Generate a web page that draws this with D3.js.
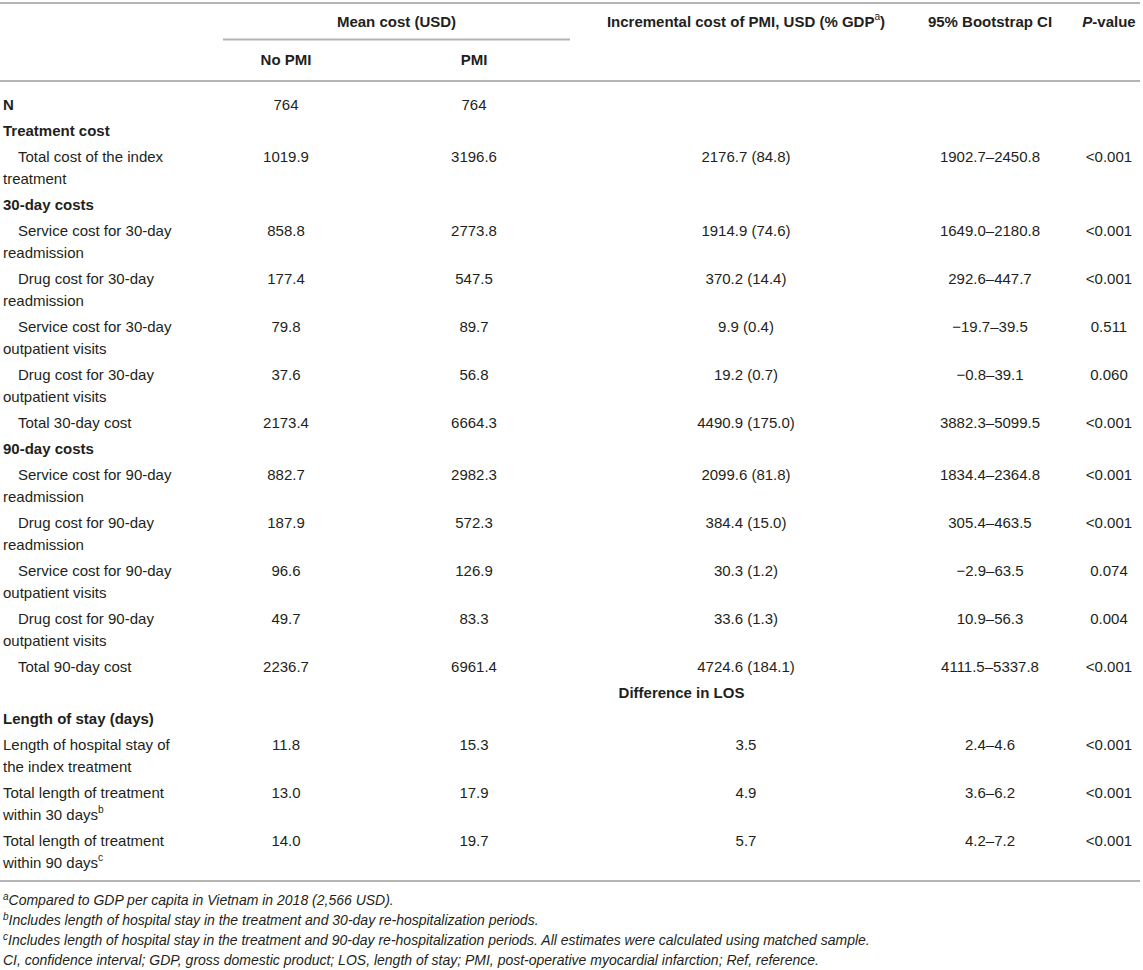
<!DOCTYPE html>
<html>
<head>
<meta charset="utf-8">
<script src="https://cdn.jsdelivr.net/npm/d3@7"></script>
<style>
  body { margin: 0; background: #fff; }
  svg { display: block; font-family: "Liberation Sans", Arial, Helvetica, sans-serif; }
</style>
</head>
<body>
<div id="chart"></div>
<script>
// row labels (wrapped lines), "^x" marks a superscript
const rowLabels = [
  ["N"],
  ["Treatment cost"],
  ["Total cost of the index", "treatment"],
  ["30-day costs"],
  ["Service cost for 30-day", "readmission"],
  ["Drug cost for 30-day", "readmission"],
  ["Service cost for 30-day", "outpatient visits"],
  ["Drug cost for 30-day", "outpatient visits"],
  ["Total 30-day cost"],
  ["90-day costs"],
  ["Service cost for 90-day", "readmission"],
  ["Drug cost for 90-day", "readmission"],
  ["Service cost for 90-day", "outpatient visits"],
  ["Drug cost for 90-day", "outpatient visits"],
  ["Total 90-day cost"],
  ["Difference in LOS"],
  ["Length of stay (days)"],
  ["Length of hospital stay of", "the index treatment"],
  ["Total length of treatment", "within 30 days^b"],
  ["Total length of treatment", "within 90 days^c"]
];
// bold = section heading, item = indented line, plain = not indented, span = centred sub-header
const rowKind = ["bold", "bold", "item", "bold", "item", "item", "item", "item", "item",
  "bold", "item", "item", "item", "item", "item", "span", "bold", "plain", "plain", "plain"];

const noPMI = ["764", "", "1019.9", "", "858.8", "177.4", "79.8", "37.6", "2173.4", "",
  "882.7", "187.9", "96.6", "49.7", "2236.7", "", "", "11.8", "13.0", "14.0"];
const withPMI = ["764", "", "3196.6", "", "2773.8", "547.5", "89.7", "56.8", "6664.3", "",
  "2982.3", "572.3", "126.9", "83.3", "6961.4", "", "", "15.3", "17.9", "19.7"];
const incremental = ["", "", "2176.7 (84.8)", "", "1914.9 (74.6)", "370.2 (14.4)", "9.9 (0.4)", "19.2 (0.7)", "4490.9 (175.0)", "",
  "2099.6 (81.8)", "384.4 (15.0)", "30.3 (1.2)", "33.6 (1.3)", "4724.6 (184.1)", "", "", "3.5", "4.9", "5.7"];
const bootCI = ["", "", "1902.7–2450.8", "", "1649.0–2180.8", "292.6–447.7", "−19.7–39.5", "−0.8–39.1", "3882.3–5099.5", "",
  "1834.4–2364.8", "305.4–463.5", "−2.9–63.5", "10.9–56.3", "4111.5–5337.8", "", "", "2.4–4.6", "3.6–6.2", "4.2–7.2"];
const pValues = ["", "", "<0.001", "", "<0.001", "<0.001", "0.511", "0.060", "<0.001", "",
  "<0.001", "<0.001", "0.074", "0.004", "<0.001", "", "", "<0.001", "<0.001", "<0.001"];

const columns = ["label", "noPMI", "pmi", "incr", "ci", "p"];
const footnotes = [
  ["a", "Compared to GDP per capita in Vietnam in 2018 (2,566 USD)."],
  ["b", "Includes length of hospital stay in the treatment and 30-day re-hospitalization periods."],
  ["c", "Includes length of hospital stay in the treatment and 90-day re-hospitalization periods. All estimates were calculated using matched sample."],
  ["", "CI, confidence interval; GDP, gross domestic product; LOS, length of stay; PMI, post-operative myocardial infarction; Ref, reference."]
];

const width = 1143, height = 970;
const ink = "#231f20", rule = "#b4b4b4";
const lineH = 22, pad = 2;

const svg = d3.select("#chart").append("svg")
  .attr("width", width).attr("height", height)
  .attr("viewBox", [0, 0, width, height]);

// column centres
const colX = d3.scaleOrdinal().domain(columns).range([3, 286, 474, 746, 990, 1109]);
const spanLeft = 223, spanRight = 570, tableRight = 1140;

// row tops from cumulative heights
const rowH = rowLabels.map(l => l.length * lineH + 2 * pad);
const bodyTop = 91;
const rowTop = rowH.map((h, i) => bodyTop + d3.sum(rowH.slice(0, i)));
const tableBottom = rowTop[rowTop.length - 1] + rowH[rowH.length - 1] + 6;

function addText(g, str, x, y, opts = {}) {
  const t = g.append("text")
    .attr("x", x).attr("y", y)
    .attr("dominant-baseline", "central")
    .attr("text-anchor", opts.anchor || "start")
    .attr("font-size", opts.size || 15)
    .attr("font-weight", opts.bold ? "bold" : null)
    .attr("font-style", opts.italic ? "italic" : null)
    .attr("fill", ink);
  const m = str.match(/^(.*)\^(\w)(.*)$/);
  if (m) {
    t.append("tspan").text(m[1]);
    t.append("tspan").attr("font-size", (opts.size || 15) * 0.68).attr("font-weight", "normal").attr("dy", -5).text(m[2]);
    if (m[3]) t.append("tspan").attr("dy", 5).text(m[3]);
  } else {
    t.text(str);
  }
  return t;
}

// rules
const rules = svg.append("g").attr("stroke", rule).attr("stroke-width", 2);
rules.append("line").attr("x1", 0).attr("x2", tableRight).attr("y1", 3).attr("y2", 3);
rules.append("line").attr("x1", spanLeft).attr("x2", spanRight).attr("y1", 39.5).attr("y2", 39.5);
rules.append("line").attr("x1", 0).attr("x2", tableRight).attr("y1", 81).attr("y2", 81);
rules.append("line").attr("x1", 0).attr("x2", tableRight).attr("y1", tableBottom).attr("y2", tableBottom);

// header
const head = svg.append("g");
addText(head, "Mean cost (USD)", (spanLeft + spanRight) / 2, 21, {anchor: "middle", bold: true});
addText(head, "No PMI", colX("noPMI"), 59, {anchor: "middle", bold: true});
addText(head, "PMI", colX("pmi"), 59, {anchor: "middle", bold: true});
addText(head, "Incremental cost of PMI, USD (% GDP^a)", colX("incr"), 21, {anchor: "middle", bold: true});
addText(head, "95% Bootstrap CI", colX("ci"), 21, {anchor: "middle", bold: true});
const pHead = head.append("text")
  .attr("x", colX("p")).attr("y", 21)
  .attr("dominant-baseline", "central").attr("text-anchor", "middle")
  .attr("font-size", 15).attr("font-weight", "bold").attr("fill", ink);
pHead.append("tspan").attr("font-style", "italic").text("P");
pHead.append("tspan").text("-value");

// body
const body = svg.append("g");
const valueCols = [["noPMI", noPMI], ["pmi", withPMI], ["incr", incremental], ["ci", bootCI], ["p", pValues]];

rowLabels.forEach((lines, i) => {
  const yc = rowTop[i] + pad + lineH / 2;
  const kind = rowKind[i];
  if (kind === "span") {
    addText(body, lines[0], (spanLeft + tableRight) / 2, yc, {anchor: "middle", bold: true});
    return;
  }
  lines.forEach((ln, j) => {
    const x = colX("label") + (kind === "item" && j === 0 ? 15 : 0);
    addText(body, ln, x, yc + j * lineH, {bold: kind === "bold"});
  });
  valueCols.forEach(([c, arr]) => {
    if (arr[i]) addText(body, arr[i], colX(c), yc, {anchor: "middle"});
  });
});

// footnotes
const foot = svg.append("g");
footnotes.forEach(([sup, txt], i) => {
  const t = foot.append("text")
    .attr("x", 3).attr("y", tableBottom + 19 + i * 20)
    .attr("dominant-baseline", "central")
    .attr("font-size", 14).attr("font-style", "italic").attr("fill", ink);
  if (sup) t.append("tspan").attr("font-size", 10).attr("dy", -4).text(sup);
  t.append("tspan").attr("dy", sup ? 4 : 0).text(txt);
});
</script>
</body>
</html>
